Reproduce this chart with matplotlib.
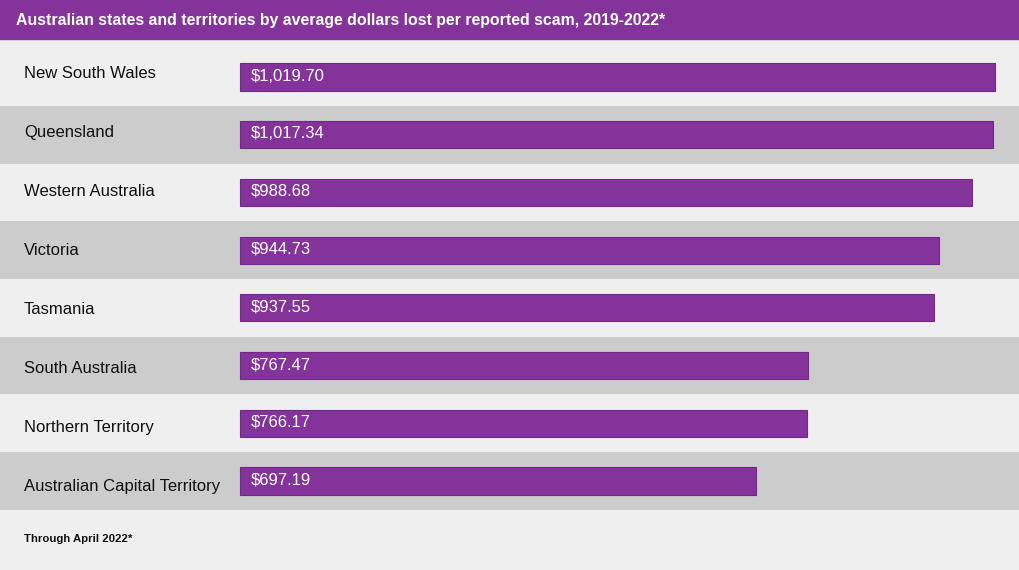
import matplotlib.pyplot as plt
from matplotlib.patches import Rectangle

states = ["New South Wales", "Queensland", "Western Australia", "Victoria",
          "Tasmania", "South Australia", "Northern Territory",
          "Australian Capital Territory"]
avg_loss = [1019.70, 1017.34, 988.68, 944.73, 937.55, 767.47, 766.17, 697.19]
title = "Australian states and territories by average dollars lost per reported scam, 2019-2022*"
footnote = "Through April 2022*"

purple = "#833399"
light = "#efefef"
grey = "#cccccc"

W, H = 1020, 570
plt.rcParams['font.family'] = ['Liberation Sans', 'DejaVu Sans']

fig = plt.figure(figsize=(W / 100, H / 100), dpi=100)
fig.patch.set_facecolor(light)

# axes spans from first bar centre - half step to last bar centre + half step
step = (481 - 77) / 7.0
top_px = 77 - step / 2
bot_px = 481 + step / 2
ax = fig.add_axes([0, 1 - bot_px / H, 1, (bot_px - top_px) / H])
ax.set_facecolor(light)

px_per_dollar = (995 - 240) / 1019.70
x0 = -240 / px_per_dollar
x1 = (W - 240) / px_per_dollar
ax.set_xlim(x0, x1)
ax.set_ylim(len(states) - 0.5, -0.5)

for i, (name, val) in enumerate(zip(states, avg_loss)):
    if i % 2 == 1:
        ax.axhspan(i - 0.5, i + 0.5, color=grey, lw=0, zorder=0)
    ax.barh(i, val, height=0.47, color=purple, edgecolor="#74268c",
            linewidth=0.8, zorder=2)
    ax.text(11 / px_per_dollar, i - 1 / step, "${:,.2f}".format(val),
            color="white", fontsize=12, va="center", ha="left", zorder=3)
    off = (-4 + i * 10 / 7.0) / step
    ax.text(x0 + 24 / px_per_dollar, i + off, name, color="#111111",
            fontsize=12, va="center", ha="left", zorder=3)

ax.axis("off")

# header band
fig.patches.append(Rectangle((0, 1 - 39 / H), 1, 39 / H, transform=fig.transFigure,
                             color=purple, zorder=5))
fig.text(16 / W, 1 - 20 / H, title, color="white", fontsize=11.4,
         fontweight="bold", va="center", ha="left", zorder=6)

fig.text(24 / W, 1 - 539 / H, footnote, color="#111111", fontsize=8.2,
         fontweight="bold", va="center", ha="left")

fig.savefig("out.png", dpi=100, facecolor=fig.get_facecolor())
